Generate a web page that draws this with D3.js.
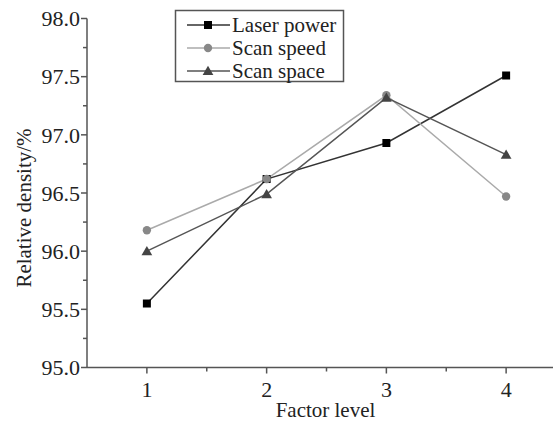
<!DOCTYPE html>
<html><head><meta charset="utf-8">
<script src="https://cdn.jsdelivr.net/npm/d3@7"></script>
<style>body{margin:0;background:#fff}svg{display:block}</style>
</head><body><svg id="c" width="553" height="423"></svg>
<script>
const levels = [1, 2, 3, 4];
const laserPower = [95.55, 96.62, 96.93, 97.51];
const scanSpeed = [96.18, 96.62, 97.34, 96.47];
const scanSpace = [96.00, 96.49, 97.32, 96.83];
const seriesNames = ["Laser power", "Scan speed", "Scan space"];
const yTicks = [95.0, 95.5, 96.0, 96.5, 97.0, 97.5, 98.0];

const series = [
  {name: seriesNames[0], values: laserPower, line: "#333", fill: "#000", shape: d3.symbolSquare, size: 64},
  {name: seriesNames[1], values: scanSpeed, line: "#aaa", fill: "#888", shape: d3.symbolCircle, size: 55},
  {name: seriesNames[2], values: scanSpace, line: "#555", fill: "#444", shape: d3.symbolTriangle, size: 50}
];

const svg = d3.select("#c");
const font = "'Liberation Serif', 'Times New Roman', serif";
const x = d3.scaleLinear().domain([0.5, 4.5]).range([87, 566]);
const y = d3.scaleLinear().domain([95, 98]).range([367.5, 18.5]);
const axisColor = "#555";
const fs = 21;

// Y axis
const yAxisG = svg.append("g").attr("transform", "translate(87,0)");
yAxisG.append("line").attr("x1", 0).attr("x2", 0).attr("y1", y(98)).attr("y2", y(95)).attr("stroke", axisColor).attr("stroke-width", 1.5);
d3.range(95, 98.01, 0.25).forEach(v => {
  const major = Math.abs(v * 2 - Math.round(v * 2)) < 1e-6;
  yAxisG.append("line").attr("x1", major ? -6 : -4).attr("x2", 0).attr("y1", y(v)).attr("y2", y(v)).attr("stroke", axisColor).attr("stroke-width", 1.5);
});
yTicks.forEach(v => {
  yAxisG.append("text").attr("x", -7).attr("y", y(v)).attr("dy", "0.35em").attr("text-anchor", "end")
    .attr("font-family", font).attr("font-size", 22).attr("fill", "#222").text(v.toFixed(1));
});

// X axis
const xAxisG = svg.append("g").attr("transform", "translate(0,367.5)");
xAxisG.append("line").attr("x1", 87).attr("x2", 566).attr("y1", 0).attr("y2", 0).attr("stroke", axisColor).attr("stroke-width", 1.5);
[1.5, 2.5, 3.5].forEach(v => {
  xAxisG.append("line").attr("x1", x(v)).attr("x2", x(v)).attr("y1", 0).attr("y2", 4).attr("stroke", axisColor).attr("stroke-width", 1.5);
});
levels.forEach(v => {
  xAxisG.append("line").attr("x1", x(v)).attr("x2", x(v)).attr("y1", 0).attr("y2", 6).attr("stroke", axisColor).attr("stroke-width", 1.5);
  xAxisG.append("text").attr("x", x(v)).attr("y", 29.5).attr("text-anchor", "middle")
    .attr("font-family", font).attr("font-size", 22).attr("fill", "#222").text(v);
});

// axis titles
svg.append("text").attr("x", 325.5).attr("y", 417).attr("text-anchor", "middle")
  .attr("font-family", font).attr("font-size", fs).attr("fill", "#222").text("Factor level");
svg.append("text").attr("transform", "translate(31,208) rotate(-90)").attr("text-anchor", "middle")
  .attr("font-family", font).attr("font-size", fs).attr("fill", "#222").text("Relative density/%");

// lines and markers
const line = d3.line().x((d, i) => x(levels[i])).y(d => y(d));
series.forEach(s => {
  svg.append("path").datum(s.values).attr("d", line).attr("fill", "none").attr("stroke", s.line).attr("stroke-width", 1.5);
});
series.forEach(s => {
  svg.selectAll(null).data(s.values).enter().append("path")
    .attr("d", d3.symbol().type(s.shape).size(s.size))
    .attr("transform", (d, i) => `translate(${x(levels[i])},${y(d) + (s.shape === d3.symbolTriangle ? 1 : 0)})`)
    .attr("fill", s.fill);
});

// legend
const lg = svg.append("g");
lg.append("rect").attr("x", 175.5).attr("y", 10.5).attr("width", 168).attr("height", 71).attr("fill", "#fff").attr("stroke", "#555").attr("stroke-width", 1.5);
series.forEach((s, i) => {
  const yy = 25 + i * 23;
  lg.append("line").attr("x1", 187).attr("x2", 230).attr("y1", yy).attr("y2", yy).attr("stroke", s.line).attr("stroke-width", 1.5);
  lg.append("path").attr("d", d3.symbol().type(s.shape).size(s.size)).attr("transform", `translate(208,${yy + (s.shape === d3.symbolTriangle ? 1 : 0)})`).attr("fill", s.fill);
  lg.append("text").attr("x", 232).attr("y", yy).attr("dy", "0.35em").attr("font-family", font).attr("font-size", fs).attr("fill", "#222").text(s.name);
});
</script></body></html>
